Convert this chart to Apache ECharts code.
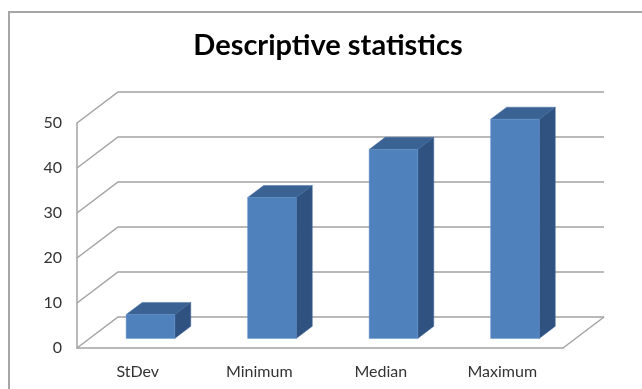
<!DOCTYPE html>
<html>
<head>
<meta charset="utf-8">
<script src="https://cdn.jsdelivr.net/npm/echarts@6/dist/echarts.min.js"></script>
<style>
  html, body { margin: 0; padding: 0; background: #fff; }
  #main { width: 642px; height: 389px; }
</style>
</head>
<body>
<div id="main"></div>
<script>
const categories = ['StDev', 'Minimum', 'Median', 'Maximum']
const values = [5.3, 31.3, 42.0, 48.7]
const ticks = [0, 10, 20, 30, 40, 50]

// depth of the 3d box, in pixels
const DX = 41
const DY = -31
const gridColor = '#a3a3a3'

var myChart = echarts.init(document.getElementById('main'))

const renderGrid = (params, api) => {
  const cs = params.coordSys
  const t = api.value(0)
  const y = api.coord([0, t])[1]
  const x0 = cs.x
  const x1 = cs.x + cs.width
  const children = [{
    type: 'polyline',
    shape: { points: [[x0, y], [x0 + DX, y + DY], [x1 + DX, y + DY]] },
    style: { stroke: gridColor, lineWidth: 1.5, fill: null }
  }]
  if (t === 0) {
    children.push({
      type: 'line',
      shape: { x1: x1, y1: y, x2: x1 + DX, y2: y + DY },
      style: { stroke: gridColor, lineWidth: 1.5 }
    })
  }
  return { type: 'group', children: children }
}

const renderBar = (params, api) => {
  const i = api.value(0)
  const base = api.coord([i, 0])
  const top = api.coord([i, api.value(1)])
  const bw = api.size([1, 0])[0] * 0.4
  const f1 = 0.31
  const f2 = 0.7
  const ox = DX * f1, oy = DY * f1
  const dx = DX * (f2 - f1), dy = DY * (f2 - f1)
  const l = base[0] - bw / 2 + ox
  const r = base[0] + bw / 2 + ox
  const yb = base[1] + oy
  const yt = top[1] + oy
  return {
    type: 'group',
    children: [
      {
        type: 'polygon',
        shape: { points: [[l, yt], [r, yt], [r + dx, yt + dy], [l + dx, yt + dy]] },
        style: { fill: '#3a6293', stroke: '#4a77ad', lineWidth: 0.5 }
      },
      {
        type: 'polygon',
        shape: { points: [[r, yt], [r + dx, yt + dy], [r + dx, yb + dy], [r, yb]] },
        style: { fill: '#2f5280', stroke: '#3d659a', lineWidth: 0.5 }
      },
      {
        type: 'rect',
        shape: { x: l, y: yt, width: r - l, height: yb - yt },
        style: { fill: '#4f81bd', stroke: '#5f8fc8', lineWidth: 0.5 }
      }
    ]
  }
}

var option = {
  animation: false,
  backgroundColor: '#fff',
  title: {
    text: 'Descriptive statistics',
    left: 323,
    textAlign: 'center',
    top: 26,
    textStyle: {
      fontFamily: 'Lato',
      fontWeight: 'bold',
      fontSize: 29,
      color: '#000'
    }
  },
  graphic: [{
    type: 'rect',
    shape: { x: 9, y: 12, width: 700, height: 500 },
    style: { fill: null, stroke: '#a6a6a6', lineWidth: 2 },
    z: -10
  }],
  grid: { left: 77, right: 79, top: 123, bottom: 41 },
  xAxis: {
    type: 'category',
    data: categories,
    axisTick: { show: false },
    axisLine: { lineStyle: { color: gridColor, width: 1.5 } },
    axisLabel: { margin: 16, fontFamily: 'Lato', fontSize: 16, color: '#333' }
  },
  yAxis: {
    type: 'value',
    min: 0,
    max: 50,
    interval: 10,
    splitLine: { show: false },
    axisTick: { show: false },
    axisLine: { show: true, lineStyle: { color: gridColor, width: 1.5 } },
    axisLabel: { margin: 15, fontFamily: 'Lato', fontSize: 16, color: '#333' }
  },
  series: [
    {
      type: 'custom',
      renderItem: renderGrid,
      data: ticks.map(t => [t]),
      encode: { y: 0 },
      silent: true,
      z: 1
    },
    {
      type: 'custom',
      renderItem: renderBar,
      data: values.map((v, i) => [i, v]),
      encode: { x: 0, y: 1 },
      z: 5
    }
  ]
}

myChart.setOption(option)
window.addEventListener('resize', () => {
  myChart.resize()
})
</script>
</body>
</html>
